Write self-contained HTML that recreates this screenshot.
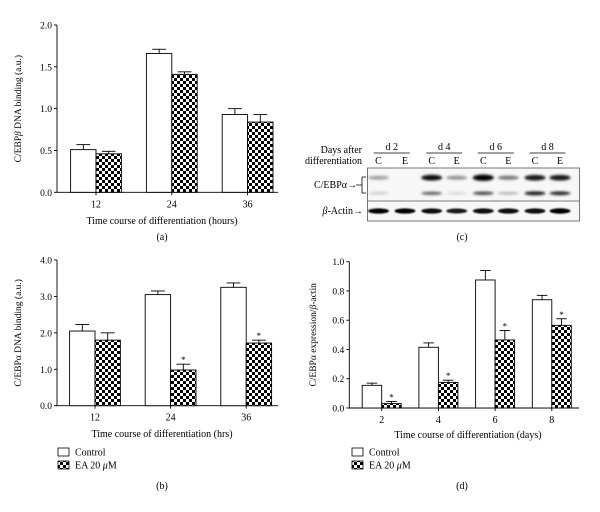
<!DOCTYPE html>
<html><head><meta charset="utf-8">
<style>
html,body{margin:0;padding:0;background:#fff;}
svg{display:block;font-family:"Liberation Serif",serif;}
</style></head>
<body>
<svg id="fig" width="600" height="512" viewBox="0 0 600 512" xmlns="http://www.w3.org/2000/svg">
<defs>
<pattern id="chk" width="6" height="6" patternUnits="userSpaceOnUse">
<rect width="6" height="6" fill="#fff"/><rect width="3" height="3" fill="#000"/><rect x="3" y="3" width="3" height="3" fill="#000"/>
</pattern>
<filter id="blur" x="-20%" y="-100%" width="140%" height="300%"><feGaussianBlur stdDeviation="1.3"/></filter>
<filter id="blur2" x="-20%" y="-100%" width="140%" height="300%"><feGaussianBlur stdDeviation="0.7"/></filter>
</defs>

<g>
<text x="362" y="153" font-size="10" text-anchor="end">Days after</text>
<text x="362" y="164" font-size="10" text-anchor="end">differentiation</text>
<g id="dayhdr"></g>
<text x="357" y="188" font-size="10" text-anchor="end">C/EBPα→</text>
<path d="M356 185 H362 M362 177 V193 M362 177 H366 M362 193 H366" stroke="#000" stroke-width="0.8" fill="none"/>
<text x="363" y="214" font-size="10" text-anchor="end"><tspan font-style="italic">β</tspan>-Actin→</text>
<rect x="367.5" y="168" width="212" height="53" fill="#f7f7f7" stroke="#555" stroke-width="0.8"/>
<line x1="367.5" y1="201" x2="579.5" y2="201" stroke="#555" stroke-width="0.8"/>
<g id="bands"></g>
<text x="462" y="240" font-size="10" text-anchor="middle">(c)</text>
</g>

<g id="chartA"></g>
<g id="chartB"></g>
<g id="chartD"></g>
</svg>
<script>
const NS="http://www.w3.org/2000/svg";
const aCats=["12","24","36"];
const aControl=[0.51,1.66,0.93];
const aControlErr=[0.06,0.05,0.07];
const aEA=[0.46,1.41,0.84];
const aEAErr=[0.03,0.03,0.09];
const aTicks=[0,0.5,1.0,1.5,2.0];
const bCats=["12","24","36"];
const bControl=[2.05,3.05,3.25];
const bControlErr=[0.18,0.1,0.12];
const bEA=[1.8,0.98,1.72];
const bEAErr=[0.2,0.16,0.08];
const bStars=[false,true,true];
const bTicks=[0,1.0,2.0,3.0,4.0];
const dCats=["2","4","6","8"];
const dControl=[0.155,0.415,0.875,0.74];
const dControlErr=[0.015,0.03,0.065,0.03];
const dEA=[0.03,0.175,0.465,0.565];
const dEAErr=[0.015,0.015,0.065,0.045];
const dStars=[true,true,true,true];
const dTicks=[0,0.2,0.4,0.6,0.8,1.0];
const days=["d 2","d 4","d 6","d 8"];
const upperBand=[0.25,0,0.85,0.3,1.0,0.4,0.8,0.8];
const lowerBand=[0.1,0,0.5,0.05,0.6,0.2,0.8,0.75];
const actinBand=[0.9,0.9,0.85,0.8,0.85,0.85,0.85,0.95];

function el(tag,attrs,parent,txt){const e=document.createElementNS(NS,tag);for(const k in attrs)e.setAttribute(k,attrs[k]);if(txt!==undefined)e.textContent=txt;parent.appendChild(e);return e;}

function chart(g,o){
  const y=v=>o.y0-(v/o.ymax)*(o.y0-o.ytop);
  const ax=el("path",{d:`M${o.x0} ${o.ytop} V${o.y0} H${o.xend}`,stroke:"#000","stroke-width":"0.9",fill:"none"},g);
  
  
  o.ticks.forEach(t=>{
    el("line",{x1:o.x0-3,x2:o.x0,y1:y(t),y2:y(t),stroke:"#000","stroke-width":"0.9"},g);
    const tl=el("text",{x:o.x0-5,y:y(t)+3.5,"font-size":"9.5","text-anchor":"end"},g,t.toFixed(1));
    
    
  });
  o.cats.forEach((c,i)=>{
    const cx=o.c0+i*o.sp;
    el("line",{x1:cx,x2:cx,y1:o.y0,y2:o.y0+3,stroke:"#000","stroke-width":"0.9"},g);
    const tl=el("text",{x:cx,y:o.y0+15,"font-size":"10","text-anchor":"middle"},g,c);
    
    
    [[o.ctrl,o.ctrlErr,"#fff",cx-o.bw,false],[o.ea,o.eaErr,"url(#chk)",cx,o.stars&&o.stars[i]]].forEach(([vals,errs,fill,bx,star],k)=>{
      const v=vals[i],top=y(v),et=y(v+errs[i]),mx=bx+o.bw/2;
      el("line",{x1:mx,x2:mx,y1:top,y2:et,stroke:"#000","stroke-width":"0.9"},g);
      el("line",{x1:mx-o.bw*0.27,x2:mx+o.bw*0.27,y1:et,y2:et,stroke:"#000","stroke-width":"0.9"},g);
      const r=el("rect",{x:bx,y:top,width:o.bw,height:o.y0-top,fill:fill,stroke:"#000","stroke-width":"0.9"},g);
      
      
      if(star){const s=el("text",{x:mx,y:et-1,"font-size":"9","text-anchor":"middle"},g,"*");
        
        }
    });
  });
  const xt=el("text",{x:o.xtx,y:o.xty,"font-size":"10","text-anchor":"middle"},g,o.xtitle);
  
  
  const yt=el("text",{x:0,y:0,"font-size":"9.5","text-anchor":"middle",transform:`translate(${o.ytx},${(o.y0+o.ytop)/2}) rotate(-90)`},g);
  yt.innerHTML=o.ytitle;
  
  
  if(o.legend){
    const lx=o.legend[0],ly=o.legend[1];
    const l1=el("rect",{x:lx,y:ly-4,width:11,height:8,fill:"#fff",stroke:"#000","stroke-width":"0.8"},g);
    
    
    const t1=el("text",{x:lx+17,y:ly+3.5,"font-size":"10"},g,"Control");
    
    
    const l2=el("rect",{x:lx,y:ly+9,width:11,height:8,fill:"url(#chk)",stroke:"#000","stroke-width":"0.8"},g);
    
    
    const t2=el("text",{x:lx+17,y:ly+16.5,"font-size":"10"},g);
    t2.innerHTML='EA 20 <tspan font-style="italic">μ</tspan>M';
    
    
  }
  const pl=el("text",{x:o.plx,y:o.ply,"font-size":"10","text-anchor":"middle"},g,o.plabel);
  
  
}

chart(document.getElementById("chartA"),{x0:57,xend:278,y0:192.3,ytop:25,ymax:2.0,ticks:aTicks,cats:aCats,c0:96,sp:75.8,bw:25.4,
  ctrl:aControl,ctrlErr:aControlErr,ea:aEA,eaErr:aEAErr,stars:null,xtitle:"Time course of differentiation (hours)",xtx:162,xty:224,
  ytitle:'C/EBP<tspan font-style="italic">β</tspan> DNA binding (a.u.)',ytx:21,plabel:"(a)",plx:162,ply:240});
chart(document.getElementById("chartB"),{x0:57,xend:278,y0:405.7,ytop:260,ymax:4.0,ticks:bTicks,cats:bCats,c0:95,sp:75.6,bw:25.4,
  ctrl:bControl,ctrlErr:bControlErr,ea:bEA,eaErr:bEAErr,stars:bStars,xtitle:"Time course of differentiation (hrs)",xtx:162,xty:437,
  ytitle:'C/EBPα DNA binding (a.u.)',ytx:21,legend:[58,452],plabel:"(b)",plx:162,ply:489});
chart(document.getElementById("chartD"),{x0:349.3,xend:579,y0:408,ytop:261.7,ymax:1.0,ticks:dTicks,cats:dCats,c0:381.7,sp:56.7,bw:19.5,
  ctrl:dControl,ctrlErr:dControlErr,ea:dEA,eaErr:dEAErr,stars:dStars,xtitle:"Time course of differentiation (days)",xtx:468,xty:438,
  ytitle:'C/EBPα expression/<tspan font-style="italic">β</tspan>-actin',ytx:316,legend:[352,452],plabel:"(d)",plx:462,ply:489});

const hdr=document.getElementById("dayhdr"),bands=document.getElementById("bands");
const laneX=[378.5,405,431.7,456.7,483.3,508.3,535,560];
days.forEach((d,i)=>{
  const cx=(laneX[2*i]+laneX[2*i+1])/2;
  const t=el("text",{x:cx,y:150,"font-size":"10","text-anchor":"middle"},hdr,d);
  
  
  el("line",{x1:cx-18,x2:cx+18,y1:153,y2:153,stroke:"#000","stroke-width":"0.8"},hdr);
  ["C","E"].forEach((s,k)=>{
    const l=el("text",{x:laneX[2*i+k],y:164,"font-size":"10","text-anchor":"middle"},hdr,s);
    
    
  });
});
function band(vals,yc,h,name){
  vals.forEach((v,i)=>{
    if(v<=0.02)return;
    const b=el("ellipse",{cx:laneX[i],cy:yc,rx:10.5,ry:h*(0.5+v*0.5),fill:"#000","fill-opacity":Math.min(1,v+0.1),filter:name==="actin-band"?"url(#blur2)":"url(#blur)"},bands);
    
    
  });
}
band(upperBand,177.7,3.2,"cebpa-upper-band");
band(lowerBand,193.3,2.2,"cebpa-lower-band");
band(actinBand,211,2.8,"actin-band");
</script>
</body></html>
